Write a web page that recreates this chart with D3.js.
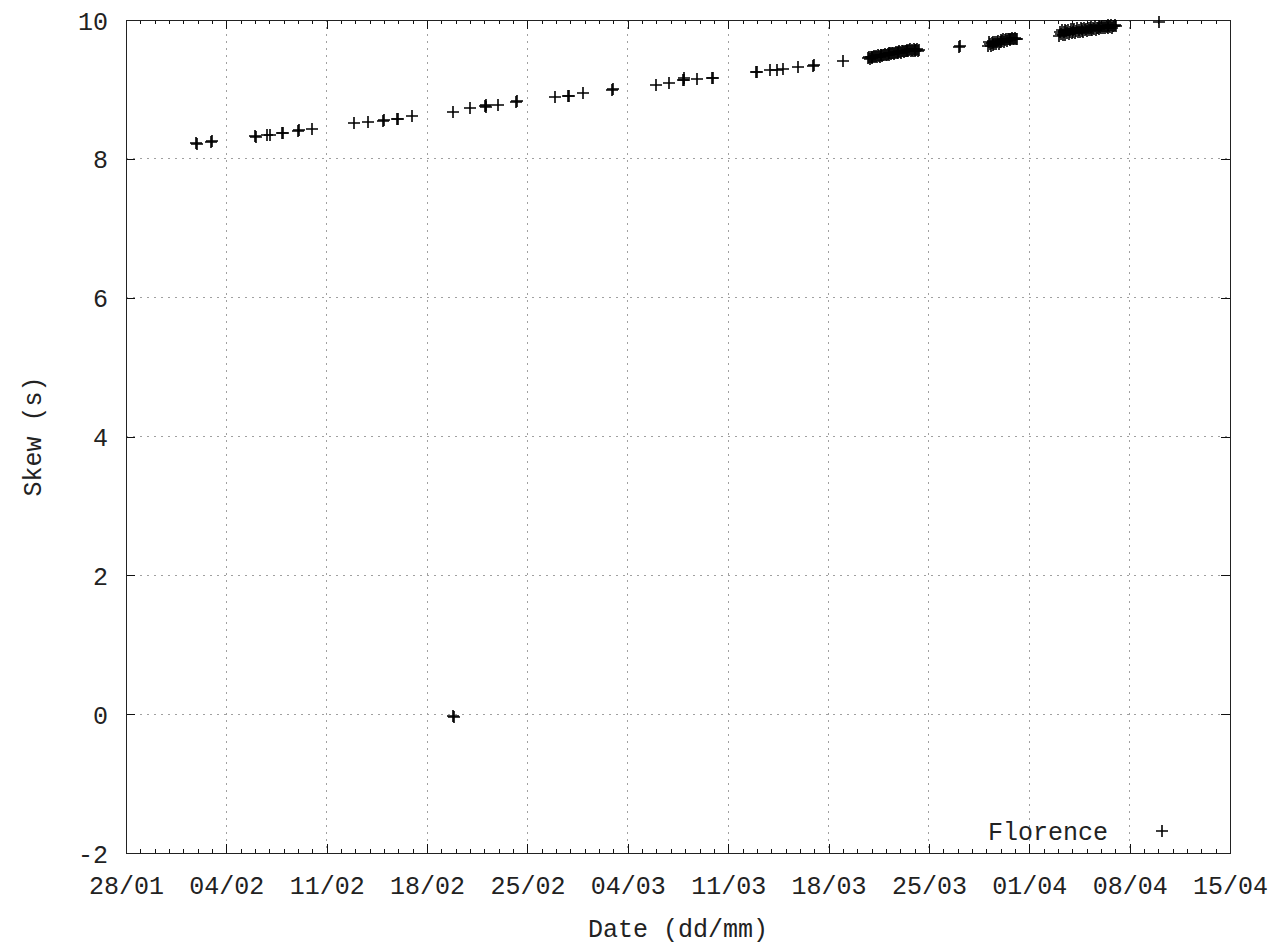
<!DOCTYPE html>
<html>
<head>
<meta charset="utf-8">
<script src="https://cdn.jsdelivr.net/npm/d3@7"></script>
<style>
  body { margin: 0; background: #fff; }
  svg { display: block; }
</style>
</head>
<body>
<div id="chart"></div>
<script>
// skew readings, "dd/mm HH:MM" -> seconds
const sparseSamples = [
    ["01/02 22:00", 8.23], ["01/02 23:30", 8.22],
    ["02/02 22:00", 8.24], ["02/02 23:30", 8.25],
    ["06/02 00:00", 8.33], ["06/02 01:30", 8.32],
    ["06/02 20:00", 8.34], ["07/02 01:00", 8.35],
    ["07/02 21:00", 8.37], ["07/02 22:30", 8.37],
    ["09/02 00:00", 8.40], ["09/02 01:30", 8.41],
    ["09/02 23:00", 8.43],
    ["12/02 22:00", 8.52], ["13/02 21:00", 8.53],
    ["14/02 22:00", 8.55], ["14/02 23:30", 8.56],
    ["15/02 22:00", 8.57], ["15/02 23:30", 8.58],
    ["16/02 23:00", 8.62],
    ["19/02 19:00", 8.67],
    ["19/02 19:00", -0.03], ["19/02 20:30", -0.04],
    ["21/02 00:00", 8.73],
    ["22/02 01:00", 8.76], ["22/02 03:00", 8.78], ["22/02 02:00", 8.75],
    ["22/02 23:00", 8.78],
    ["24/02 05:00", 8.82], ["24/02 06:30", 8.83],
    ["26/02 22:00", 8.89],
    ["27/02 20:00", 8.91], ["27/02 21:30", 8.91],
    ["28/02 21:00", 8.95],
    ["02/03 21:30", 8.99], ["02/03 23:00", 9.00],
    ["05/03 23:00", 9.06], ["06/03 21:00", 9.09],
    ["07/03 20:30", 9.14], ["07/03 21:30", 9.16], ["07/03 22:30", 9.13],
    ["08/03 19:40", 9.15],
    ["09/03 21:00", 9.16], ["09/03 22:30", 9.17],
    ["12/03 22:30", 9.25], ["13/03 00:00", 9.25],
    ["13/03 22:00", 9.28], ["14/03 09:40", 9.28], ["14/03 19:40", 9.29],
    ["15/03 21:00", 9.32],
    ["16/03 22:00", 9.34], ["16/03 23:30", 9.35],
    ["19/03 00:00", 9.41],
    ["27/03 02:00", 9.61], ["27/03 03:30", 9.62],
    ["10/04 01:00", 9.97]
];

// dense logging bursts
const burstMar20 = [
    ["20/03 18:00", 9.45], ["20/03 19:30", 9.46], ["20/03 21:00", 9.44], ["20/03 22:30", 9.46],
    ["21/03 00:00", 9.47], ["21/03 01:30", 9.45], ["21/03 03:00", 9.47], ["21/03 04:30", 9.48],
    ["21/03 06:00", 9.46], ["21/03 07:30", 9.48], ["21/03 09:00", 9.47], ["21/03 10:30", 9.49],
    ["21/03 12:00", 9.48], ["21/03 13:30", 9.47], ["21/03 15:00", 9.49], ["21/03 16:30", 9.50],
    ["21/03 18:00", 9.48], ["21/03 19:30", 9.50], ["21/03 21:00", 9.49], ["21/03 22:30", 9.51],
    ["22/03 00:00", 9.50], ["22/03 01:30", 9.49], ["22/03 03:00", 9.51], ["22/03 04:30", 9.52],
    ["22/03 06:00", 9.50], ["22/03 07:30", 9.52], ["22/03 09:00", 9.51], ["22/03 10:30", 9.53],
    ["22/03 12:00", 9.52], ["22/03 13:30", 9.51], ["22/03 15:00", 9.53], ["22/03 16:30", 9.54],
    ["22/03 18:00", 9.52], ["22/03 19:30", 9.54], ["22/03 21:00", 9.53], ["22/03 22:30", 9.55],
    ["23/03 00:00", 9.54], ["23/03 01:30", 9.53], ["23/03 03:00", 9.55], ["23/03 04:30", 9.56],
    ["23/03 06:00", 9.54], ["23/03 07:30", 9.56], ["23/03 09:00", 9.55], ["23/03 10:30", 9.57],
    ["23/03 12:00", 9.56], ["23/03 13:30", 9.55], ["23/03 15:00", 9.57], ["23/03 16:30", 9.58],
    ["23/03 18:00", 9.56], ["23/03 19:30", 9.57], ["23/03 21:00", 9.56], ["23/03 22:30", 9.58],
    ["24/03 00:00", 9.57], ["24/03 01:30", 9.56], ["24/03 03:00", 9.57], ["24/03 04:30", 9.58],
    ["24/03 06:00", 9.56], ["24/03 08:00", 9.57]
];

const burstMar29 = [
    ["29/03 03:00", 9.63], ["29/03 04:30", 9.68], ["29/03 06:00", 9.65], ["29/03 07:30", 9.62],
    ["29/03 09:00", 9.67], ["29/03 10:30", 9.69], ["29/03 12:00", 9.64], ["29/03 13:30", 9.66],
    ["29/03 15:00", 9.69], ["29/03 16:30", 9.65], ["29/03 18:00", 9.68], ["29/03 19:30", 9.70],
    ["29/03 21:00", 9.66], ["29/03 22:30", 9.69], ["30/03 00:00", 9.71], ["30/03 01:30", 9.68],
    ["30/03 03:00", 9.70], ["30/03 04:30", 9.72], ["30/03 06:00", 9.69], ["30/03 07:30", 9.71],
    ["30/03 09:00", 9.72], ["30/03 10:30", 9.70], ["30/03 12:00", 9.72], ["30/03 13:30", 9.73],
    ["30/03 15:00", 9.71], ["30/03 16:30", 9.73], ["30/03 18:00", 9.72], ["30/03 19:30", 9.74],
    ["30/03 21:00", 9.73], ["30/03 22:30", 9.72], ["31/03 00:00", 9.74], ["31/03 01:30", 9.73],
    ["31/03 03:00", 9.73]
];

const burstApr03 = [
    ["03/04 02:00", 9.77], ["03/04 03:30", 9.83], ["03/04 05:00", 9.80], ["03/04 06:30", 9.85],
    ["03/04 08:00", 9.78], ["03/04 09:30", 9.82], ["03/04 11:00", 9.86], ["03/04 12:30", 9.79],
    ["03/04 14:00", 9.84], ["03/04 15:30", 9.81], ["03/04 17:00", 9.86], ["03/04 18:30", 9.80],
    ["03/04 20:00", 9.83], ["03/04 21:30", 9.87], ["03/04 23:00", 9.81],
    ["04/04 00:30", 9.85], ["04/04 02:00", 9.82], ["04/04 03:30", 9.87], ["04/04 05:00", 9.81],
    ["04/04 06:30", 9.84], ["04/04 08:00", 9.88], ["04/04 09:30", 9.82], ["04/04 11:00", 9.86],
    ["04/04 12:30", 9.83], ["04/04 14:00", 9.88], ["04/04 15:30", 9.84], ["04/04 17:00", 9.87],
    ["04/04 18:30", 9.83], ["04/04 20:00", 9.89], ["04/04 21:30", 9.85], ["04/04 23:00", 9.87],
    ["05/04 00:30", 9.84], ["05/04 02:00", 9.89], ["05/04 03:30", 9.86], ["05/04 05:00", 9.88],
    ["05/04 06:30", 9.85], ["05/04 08:00", 9.90], ["05/04 09:30", 9.86], ["05/04 11:00", 9.89],
    ["05/04 12:30", 9.87], ["05/04 14:00", 9.91], ["05/04 15:30", 9.86], ["05/04 17:00", 9.89],
    ["05/04 18:30", 9.88], ["05/04 20:00", 9.91], ["05/04 21:30", 9.87], ["05/04 23:00", 9.90],
    ["06/04 00:30", 9.88], ["06/04 02:00", 9.92], ["06/04 03:30", 9.89], ["06/04 05:00", 9.91],
    ["06/04 06:30", 9.88], ["06/04 08:00", 9.92], ["06/04 09:30", 9.90], ["06/04 11:00", 9.93],
    ["06/04 12:30", 9.89], ["06/04 14:00", 9.92], ["06/04 15:30", 9.90], ["06/04 17:00", 9.93],
    ["06/04 18:30", 9.89], ["06/04 20:00", 9.92], ["06/04 21:30", 9.91], ["06/04 23:00", 9.93],
    ["07/04 00:30", 9.91]
];

const xDomain = ["28/01 00:00", "15/04 00:00"];
const yTicks = [-2, 0, 2, 4, 6, 8, 10];
const seriesName = "Florence";

const width = 1273, height = 948;
const margin = { top: 20, right: 43, bottom: 95, left: 126 };
const iw = width - margin.left - margin.right;
const ih = height - margin.top - margin.bottom;
const FONT = "'Liberation Mono', 'DejaVu Sans Mono', monospace";

const parse = d3.utcParse("%d/%m %H:%M");
const points = sparseSamples.concat(burstMar20, burstMar29, burstApr03)
    .map(([t, v]) => ({ date: parse(t), skew: v }));

const x = d3.scaleUtc().domain(xDomain.map(parse)).range([0, iw]);
const y = d3.scaleLinear().domain([d3.min(yTicks), d3.max(yTicks)]).range([ih, 0]);

const daily = d3.utcDay.range(x.domain()[0], d3.utcDay.offset(x.domain()[1], 1));
const weekly = daily.filter((d, i) => i % 7 === 0);

const svg = d3.select("#chart").append("svg")
    .attr("width", width)
    .attr("height", height);

const g = svg.append("g").attr("transform", `translate(${margin.left},${margin.top})`);

// grid
const grid = g.append("g")
    .attr("stroke", "#a0a0a0")
    .attr("stroke-width", 1)
    .attr("stroke-dasharray", "2,5")
    .attr("shape-rendering", "crispEdges");
grid.selectAll(".vg").data(weekly.slice(1, -1)).join("line")
    .attr("x1", d => x(d)).attr("x2", d => x(d))
    .attr("y1", 0).attr("y2", ih);
grid.selectAll(".hg").data(yTicks.slice(1, -1)).join("line")
    .attr("y1", d => y(d)).attr("y2", d => y(d))
    .attr("x1", 0).attr("x2", iw);

function styleAxis(sel) {
    sel.select(".domain").remove();
    sel.attr("font-family", FONT).attr("font-size", 25)
        .attr("shape-rendering", "crispEdges");
    sel.selectAll("line").attr("stroke", "#111");
    sel.selectAll("text").attr("fill", "#222");
}

// x axes (bottom with labels, top mirrored)
g.append("g").attr("transform", `translate(0,${ih})`)
    .call(d3.axisBottom(x).tickValues(daily).tickSize(-4).tickFormat(""))
    .call(styleAxis);
g.append("g").attr("transform", `translate(0,${ih})`)
    .call(d3.axisBottom(x).tickValues(weekly).tickSize(-9).tickPadding(23)
        .tickFormat(d3.utcFormat("%d/%m")))
    .call(styleAxis);
g.append("g")
    .call(d3.axisTop(x).tickValues(daily).tickSize(-4).tickFormat(""))
    .call(styleAxis);
g.append("g")
    .call(d3.axisTop(x).tickValues(weekly).tickSize(-9).tickFormat(""))
    .call(styleAxis);

// y axes
g.append("g")
    .call(d3.axisLeft(y).tickValues(yTicks).tickSize(-9).tickPadding(18)
        .tickFormat(d => d < 0 ? "-" + Math.abs(d) : d))
    .call(styleAxis)
    .call(s => s.selectAll("text").attr("dy", "0.36em"));
g.append("g").attr("transform", `translate(${iw},0)`)
    .call(d3.axisRight(y).tickValues(yTicks).tickSize(-9).tickFormat(""))
    .call(styleAxis);

// border
g.append("rect")
    .attr("width", iw).attr("height", ih)
    .attr("fill", "none")
    .attr("stroke", "#222")
    .attr("shape-rendering", "crispEdges");

// points
const plus = "M-6,0H6M0,-6V6";
g.append("g")
    .attr("stroke", "#000")
    .attr("stroke-width", 1.6)
    .attr("fill", "none")
    .selectAll("path").data(points).join("path")
    .attr("transform", d => `translate(${Math.round(x(d.date))},${Math.round(y(d.skew))})`)
    .attr("d", plus);

// legend
const legend = g.append("g").attr("transform", `translate(${iw - 68},${ih - 22})`);
legend.append("text")
    .attr("x", -54).attr("y", 9)
    .attr("text-anchor", "end")
    .attr("font-family", FONT).attr("font-size", 25).attr("fill", "#222")
    .text(seriesName);
legend.append("path")
    .attr("d", plus)
    .attr("stroke", "#000").attr("stroke-width", 1.6);

// axis titles
svg.append("text")
    .attr("x", margin.left + iw / 2).attr("y", 937)
    .attr("text-anchor", "middle")
    .attr("font-family", FONT).attr("font-size", 25).attr("fill", "#222")
    .text("Date (dd/mm)");
svg.append("text")
    .attr("transform", `translate(41,${margin.top + ih / 2}) rotate(-90)`)
    .attr("text-anchor", "middle")
    .attr("font-family", FONT).attr("font-size", 25).attr("fill", "#222")
    .text("Skew (s)");
</script>
</body>
</html>
